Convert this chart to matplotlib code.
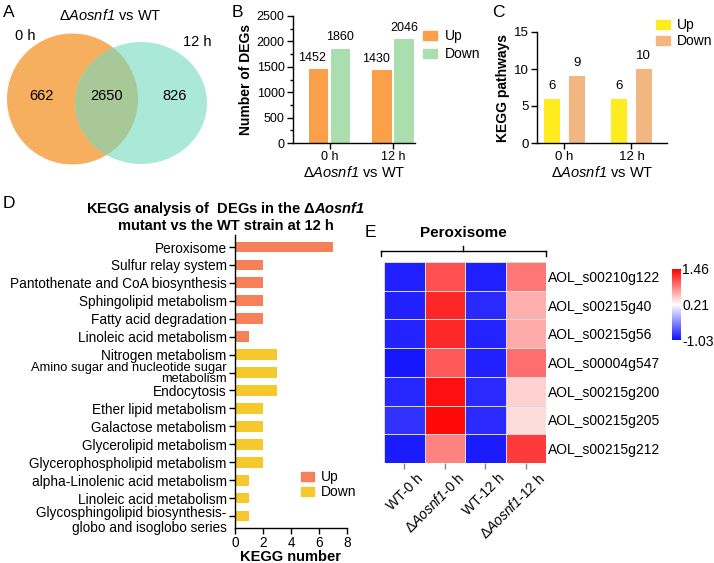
import matplotlib
matplotlib.use('Agg')
import matplotlib.pyplot as plt
import numpy as np
from matplotlib.patches import Circle, Ellipse, Patch
from matplotlib.colors import LinearSegmentedColormap, Normalize
from matplotlib.transforms import ScaledTranslation

plt.rcParams['font.family'] = ['Liberation Sans', 'DejaVu Sans']
plt.rcParams['mathtext.fontset'] = 'custom'
# math is only used for the italic strain name, so digits must be italic too
plt.rcParams['mathtext.rm'] = 'Liberation Sans:italic'
plt.rcParams['mathtext.it'] = 'Liberation Sans:italic'
plt.rcParams['mathtext.bf'] = 'Liberation Sans:italic:bold'
plt.rcParams['mathtext.bfit'] = 'Liberation Sans:italic:bold'
plt.rcParams['axes.linewidth'] = 1.0

# ---------------- data ----------------
venn_only_0h = 662
venn_shared = 2650
venn_only_12h = 826
venn_sets = ['0 h', '12 h']

time_points = ['0 h', '12 h']
deg_up = [1452, 1430]
deg_down = [1860, 2046]

kegg_up = [6, 6]
kegg_down = [9, 10]

kegg_terms = ['Peroxisome', 'Sulfur relay system', 'Pantothenate and CoA biosynthesis',
              'Sphingolipid metabolism', 'Fatty acid degradation', 'Linoleic acid metabolism',
              'Nitrogen metabolism', 'Amino sugar and nucleotide sugar\nmetabolism', 'Endocytosis',
              'Ether lipid metabolism', 'Galactose metabolism', 'Glycerolipid metabolism',
              'Glycerophospholipid metabolism', 'alpha-Linolenic acid metabolism',
              'Linoleic acid metabolism', 'Glycosphingolipid biosynthesis-\nglobo and isoglobo series']
kegg_counts = [7, 2, 2, 2, 2, 1, 3, 3, 3, 2, 2, 2, 2, 1, 1, 1]
kegg_dir = ['Up'] * 6 + ['Down'] * 10

genes = ['AOL_s00210g122', 'AOL_s00215g40', 'AOL_s00215g56', 'AOL_s00004g547',
         'AOL_s00215g200', 'AOL_s00215g205', 'AOL_s00215g212']
samples = ['WT-0 h', 'Δ$\\mathit{Aosnf1}$-0 h', 'WT-12 h', 'Δ$\\mathit{Aosnf1}$-12 h']
heat_wt0 = [-0.95, -0.94, -0.93, -0.99, -0.91, -0.85, -0.97]
heat_mut0 = [1.07, 1.27, 1.26, 1.03, 1.38, 1.42, 0.82]
heat_wt12 = [-0.95, -0.89, -0.93, -0.94, -0.89, -0.89, -0.97]
heat_mut12 = [0.88, 0.61, 0.63, 0.92, 0.43, 0.39, 1.17]
heat_ticks = [-1.03, 0.21, 1.46]

# ---------------- figure ----------------
W, H = 714, 563
fig = plt.figure(figsize=(W / 100, H / 100), dpi=100)


def add_ax(l, t, r, b):
    return fig.add_axes([l / W, 1 - b / H, (r - l) / W, (b - t) / H])


ov = fig.add_axes([0, 0, 1, 1])
ov.set_xlim(0, W)
ov.set_ylim(H, 0)
ov.axis('off')

mut_label = 'Δ$\\mathit{Aosnf1}$ vs WT'

# ---------- A: Venn ----------
va = add_ax(0, 0, 230, 190)
va.set_xlim(0, 230)
va.set_ylim(190, 0)
va.axis('off')
c_left = Circle((72.5, 99), 65.5, color='#F6AF5F', lw=0)
c_right = Ellipse((141, 103), 132, 122, color='#AAE8D7', lw=0)
va.add_patch(c_left)
va.add_patch(c_right)
c_ov = Ellipse((141, 103), 132, 122, color='#A8C997', lw=0)
va.add_patch(c_ov)
c_ov.set_clip_path(c_left)
va.text(110, 15, mut_label, ha='center', va='center', fontsize=10.5)
va.text(25, 36, venn_sets[0], ha='center', va='center', fontsize=10.5)
va.text(197, 42, venn_sets[1], ha='center', va='center', fontsize=10.5)
va.text(41, 96, str(venn_only_0h), ha='center', va='center', fontsize=10.5)
va.text(107, 96, str(venn_shared), ha='center', va='center', fontsize=10.5)
va.text(175, 96, str(venn_only_12h), ha='center', va='center', fontsize=10.5)


def style_ax(ax, fs):
    for s in ['top', 'right']:
        ax.spines[s].set_visible(False)
    ax.tick_params(axis='both', which='major', length=4, width=1, labelsize=fs, pad=2)
    ax.tick_params(axis='both', which='minor', length=2, width=1)


# ---------- B ----------
axB = add_ax(293, 16, 415, 143)
x = np.arange(len(time_points))
axB.bar(x - 0.172, deg_up, 0.31, color='#FBA048')
axB.bar(x + 0.172, deg_down, 0.31, color='#AADEAC')
axB.set_xlim(-0.575, 1.346)
axB.set_ylim(0, 2500)
axB.set_yticks(np.arange(0, 2501, 500))
axB.set_yticks(np.arange(250, 2500, 500), minor=True)
axB.set_xticks(x)
axB.set_xticklabels(time_points)
style_ax(axB, 9)
axB.set_ylabel('Number of DEGs', fontsize=10, fontweight='bold', labelpad=3)
axB.set_xlabel(mut_label, fontsize=10.5, labelpad=1)
for xi, v in zip(x, deg_up):
    axB.annotate(str(v), (xi - 0.172, v), xytext=(-4.5, 4), textcoords='offset points',
                 ha='center', va='bottom', fontsize=9)
for xi, v in zip(x, deg_down):
    axB.annotate(str(v), (xi + 0.172, v), xytext=(0, 4), textcoords='offset points',
                 ha='center', va='bottom', fontsize=9)
axB.legend([Patch(color='#FBA048'), Patch(color='#AADEAC')], ['Up', 'Down'],
           loc='upper left', bbox_to_anchor=(423, 29), bbox_transform=ov.transData,
           frameon=False, fontsize=10, handlelength=1.0, handleheight=0.6,
           handletextpad=0.6, labelspacing=0.3, borderpad=0, borderaxespad=0)

# ---------- C ----------
axC = add_ax(537, 32, 667, 143)
axC.bar(x - 0.185, kegg_up, 0.24, color='#FFEC1E')
axC.bar(x + 0.185, kegg_down, 0.24, color='#F2B780')
axC.set_xlim(-0.41, 1.53)
axC.set_ylim(0, 15)
axC.set_yticks([0, 5, 10, 15])
axC.set_xticks(x)
axC.set_xticklabels(time_points)
style_ax(axC, 9.5)
axC.set_ylabel('KEGG pathways', fontsize=10, fontweight='bold', labelpad=3)
axC.set_xlabel(mut_label, fontsize=10.5, labelpad=1)
for xi, v in zip(x, kegg_up):
    axC.annotate(str(v), (xi - 0.185, v), xytext=(0, 5), textcoords='offset points',
                 ha='center', va='bottom', fontsize=9.5)
for xi, v in zip(x, kegg_down):
    axC.annotate(str(v), (xi + 0.185, v), xytext=(0, 5), textcoords='offset points',
                 ha='center', va='bottom', fontsize=9.5)
axC.legend([Patch(color='#FFEC1E'), Patch(color='#F2B780')], ['Up', 'Down'],
           loc='upper left', bbox_to_anchor=(656, 18), bbox_transform=ov.transData,
           frameon=False, fontsize=10, handlelength=1.0, handleheight=0.6,
           handletextpad=0.5, labelspacing=0.15, borderpad=0, borderaxespad=0)

# ---------- D ----------
axD = add_ax(235, 235, 347, 528)
yD = np.arange(len(kegg_terms))
colD = {'Up': '#F5805A', 'Down': '#F5C82D'}
axD.barh(yD, kegg_counts, 0.6, color=[colD[d] for d in kegg_dir])
axD.set_ylim(len(kegg_terms) - 0.33, -0.67)
axD.set_xlim(0, 8)
axD.set_xticks([0, 2, 4, 6, 8])
axD.set_yticks(yD)
axD.set_yticklabels(kegg_terms)
style_ax(axD, 9.8)
axD.tick_params(axis='x', pad=1.5)
ylabs = axD.get_yticklabels()
for lab in ylabs:
    lab.set_linespacing(0.85)
ylabs[7].set_fontsize(9.3)
ylabs[7].set_linespacing(0.88)
ylabs[-1].set_linespacing(1.05)
ylabs[-1].set_transform(ylabs[-1].get_transform() +
                        ScaledTranslation(0, -3 / 100, fig.dpi_scale_trans))
axD.set_xlabel('KEGG number', fontsize=10.5, fontweight='bold', labelpad=0.5)
axD.legend([Patch(color=colD['Up']), Patch(color=colD['Down'])], ['Up', 'Down'],
           loc='upper left', bbox_to_anchor=(301, 470), bbox_transform=ov.transData,
           frameon=False, fontsize=10, handlelength=0.9, handleheight=0.6,
           handletextpad=0.5, labelspacing=0.1, borderpad=0, borderaxespad=0)
ov.text(226, 216.5, 'KEGG analysis of  DEGs in the Δ$\\mathbfit{Aosnf1}$\nmutant vs the WT strain at 12 h',
        ha='center', va='center', fontsize=10.5, fontweight='bold', linespacing=1.0)

# ---------- E ----------
axE = add_ax(384, 262, 546, 463)
heat = np.column_stack([heat_wt0, heat_mut0, heat_wt12, heat_mut12])
cmap = LinearSegmentedColormap.from_list('bwr_e', ['#1010FF', '#FFFFFF', '#FF0000'])
norm = Normalize(vmin=heat_ticks[0], vmax=heat_ticks[-1])
mesh = axE.pcolormesh(heat, cmap=cmap, norm=norm, edgecolors='#d9d9d9', linewidth=0.5)
axE.set_xlim(0, heat.shape[1])
axE.set_ylim(heat.shape[0], 0)
for s in axE.spines.values():
    s.set_visible(False)
axE.set_xticks(np.arange(heat.shape[1]) + 0.5)
axE.set_xticklabels([])
axE.tick_params(axis='x', length=4, color='#888888', width=1)
axE.yaxis.tick_right()
axE.set_yticks(np.arange(heat.shape[0]) + 0.5)
axE.set_yticklabels(genes)
axE.tick_params(axis='y', length=0, labelsize=10, pad=1.5)
offs = ScaledTranslation(17 / 100, -13 / 100, fig.dpi_scale_trans)
for i, s in enumerate(samples):
    axE.text(i + 0.5, 0, s, transform=axE.get_xaxis_transform() + offs,
             rotation=45, rotation_mode='anchor', ha='right', va='center', fontsize=10)

caxE = add_ax(672, 269, 681, 340)
cb = fig.colorbar(mesh, cax=caxE, ticks=heat_ticks)
cb.outline.set_visible(False)
cb.ax.set_yticklabels(['%.2f' % t for t in heat_ticks])
cb.ax.tick_params(length=0, labelsize=10, pad=1)

# bracket + group label
ov.plot([381, 546], [251, 251], color='black', lw=1)
ov.plot([381, 381], [251, 256], color='black', lw=1)
ov.plot([546, 546], [251, 256], color='black', lw=1)
ov.plot([463, 463], [251, 246], color='black', lw=1)
ov.text(463, 233, 'Peroxisome', ha='center', va='center', fontsize=11, fontweight='bold')

# panel letters
for lt, (px, py) in zip('ABCDE', [(8.5, 12.5), (237, 12.5), (498.5, 12.5), (9, 203), (370.5, 232.5)]):
    ov.text(px, py, lt, ha='center', va='center', fontsize=12.5)

fig.savefig('out.png', dpi=100)
